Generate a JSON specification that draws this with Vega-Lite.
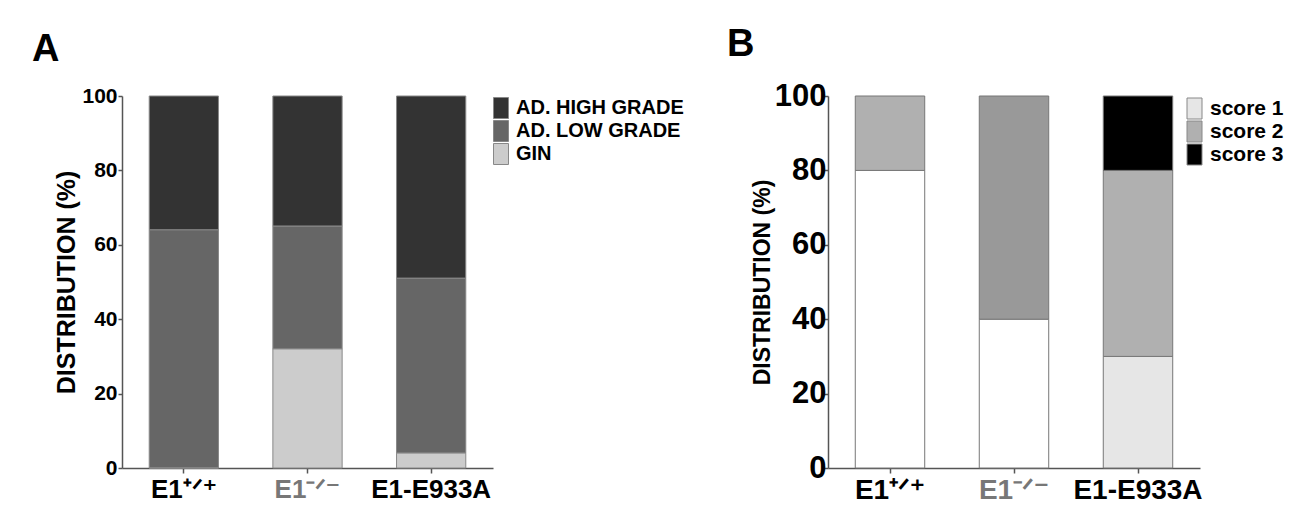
{
  "$schema": "https://vega.github.io/schema/vega-lite/v6.json",
  "background": "white",
  "padding": {"left": 32, "top": 26, "right": 0, "bottom": 0},
  "autosize": {"type": "pad"},
  "config": {
    "font": "Liberation Sans",
    "view": {"stroke": null},
    "axis": {"grid": false, "domainColor": "#555555", "domainWidth": 1.5, "tickColor": "#555555", "tickWidth": 1.5, "labelColor": "#000000", "titleColor": "#000000", "labelFontWeight": "bold", "titleFontWeight": "bold", "labelFont": "Liberation Sans", "titleFont": "Liberation Sans"},
    "legend": {"labelFont": "Liberation Sans", "labelFontWeight": "bold", "labelColor": "#000000", "labelLimit": 0}
  },
  "resolve": {"scale": {"color": "independent"}, "legend": {"color": "independent"}},
  "bounds": "flush",
  "spacing": 335,
  "hconcat": [
    {
      "width": 371,
      "height": 372,
      "title": {"text": "A", "anchor": "start", "frame": "group", "dx": -90, "fontSize": 38, "fontWeight": "bold", "color": "#000000", "offset": 16},
      "data": {"values": [
        {"genotype": "E1⁺ᐟ⁺", "grade": "AD. HIGH GRADE", "pct": 36},
        {"genotype": "E1⁺ᐟ⁺", "grade": "AD. LOW GRADE", "pct": 64},
        {"genotype": "E1⁺ᐟ⁺", "grade": "GIN", "pct": 0},
        {"genotype": "E1⁻ᐟ⁻", "grade": "AD. HIGH GRADE", "pct": 35},
        {"genotype": "E1⁻ᐟ⁻", "grade": "AD. LOW GRADE", "pct": 33},
        {"genotype": "E1⁻ᐟ⁻", "grade": "GIN", "pct": 32},
        {"genotype": "E1-E933A", "grade": "AD. HIGH GRADE", "pct": 49},
        {"genotype": "E1-E933A", "grade": "AD. LOW GRADE", "pct": 47},
        {"genotype": "E1-E933A", "grade": "GIN", "pct": 4}
      ]},
      "mark": {"type": "bar", "stroke": "#888888", "strokeWidth": 1},
      "encoding": {
        "x": {"field": "genotype", "type": "nominal", "sort": ["E1⁺ᐟ⁺", "E1⁻ᐟ⁻", "E1-E933A"],
          "scale": {"paddingInner": 0.44, "paddingOuter": 0.22},
          "axis": {"title": null, "labelAngle": 0, "labelFontSize": 26, "labelPadding": 3, "tickSize": 5,
            "labelColor": {"condition": {"test": "datum.value === 'E1⁻ᐟ⁻'", "value": "#777777"}, "value": "#000000"}}},
        "y": {"field": "pct", "type": "quantitative", "stack": "zero", "scale": {"domain": [0, 100]},
          "axis": {"title": "DISTRIBUTION (%)", "titleFontSize": 25, "titlePadding": 2, "labelFontSize": 21, "labelPadding": 1, "tickSize": 4, "values": [0, 20, 40, 60, 80, 100]}},
        "color": {"field": "grade", "type": "nominal",
          "scale": {"domain": ["AD. HIGH GRADE", "AD. LOW GRADE", "GIN"], "range": ["#333333", "#666666", "#cccccc"]},
          "legend": {"title": null, "orient": "right", "offset": -4, "padding": 2, "labelFontSize": 20, "labelOffset": 5,
            "symbolType": "M-1,-1.4H1V1.4H-1Z", "symbolSize": 225, "symbolStrokeColor": "#888888", "symbolStrokeWidth": 1, "rowPadding": -3}},
        "order": {"field": "grade", "type": "nominal", "sort": "descending"}
      }
    },
    {
      "width": 372,
      "height": 372,
      "title": {"text": "B", "anchor": "start", "frame": "group", "dx": -101, "fontSize": 38, "fontWeight": "bold", "color": "#000000", "offset": 16},
      "data": {"values": [
        {"genotype": "E1⁺ᐟ⁺", "score": "score 1", "pct": 80},
        {"genotype": "E1⁺ᐟ⁺", "score": "score 2", "pct": 20},
        {"genotype": "E1⁻ᐟ⁻", "score": "score 1", "pct": 40},
        {"genotype": "E1⁻ᐟ⁻", "score": "score 2", "pct": 60},
        {"genotype": "E1-E933A", "score": "score 1", "pct": 30},
        {"genotype": "E1-E933A", "score": "score 2", "pct": 50},
        {"genotype": "E1-E933A", "score": "score 3", "pct": 20}
      ]},
      "mark": {"type": "bar", "stroke": "#777777", "strokeWidth": 1},
      "encoding": {
        "x": {"field": "genotype", "type": "nominal", "sort": ["E1⁺ᐟ⁺", "E1⁻ᐟ⁻", "E1-E933A"],
          "scale": {"paddingInner": 0.44, "paddingOuter": 0.22},
          "axis": {"title": null, "labelAngle": 0, "labelFontSize": 28, "labelPadding": 3, "tickSize": 5,
            "labelColor": {"condition": {"test": "datum.value === 'E1⁻ᐟ⁻'", "value": "#777777"}, "value": "#000000"}}},
        "y": {"field": "pct", "type": "quantitative", "stack": "zero", "scale": {"domain": [0, 100]},
          "axis": {"title": "DISTRIBUTION (%)", "titleFontSize": 23, "titlePadding": 0, "labelFontSize": 31, "labelPadding": -2, "tickSize": 4, "values": [0, 20, 40, 60, 80, 100]}},
        "color": {"field": "score", "type": "nominal",
          "condition": [
            {"test": "datum.genotype !== 'E1-E933A' && datum.score === 'score 1'", "value": "#ffffff"},
            {"test": "datum.genotype === 'E1⁻ᐟ⁻' && datum.score === 'score 2'", "value": "#999999"}
          ],
          "scale": {"domain": ["score 1", "score 2", "score 3"], "range": ["#e6e6e6", "#b0b0b0", "#000000"]},
          "legend": {"title": null, "orient": "right", "offset": -18, "padding": 2, "labelFontSize": 21, "labelOffset": 5,
            "symbolType": "M-1,-1.4H1V1.4H-1Z", "symbolSize": 225, "symbolStrokeColor": "#888888", "symbolStrokeWidth": 1, "rowPadding": -3}},
        "order": {"field": "score", "type": "nominal", "sort": "ascending"}
      }
    }
  ]
}
